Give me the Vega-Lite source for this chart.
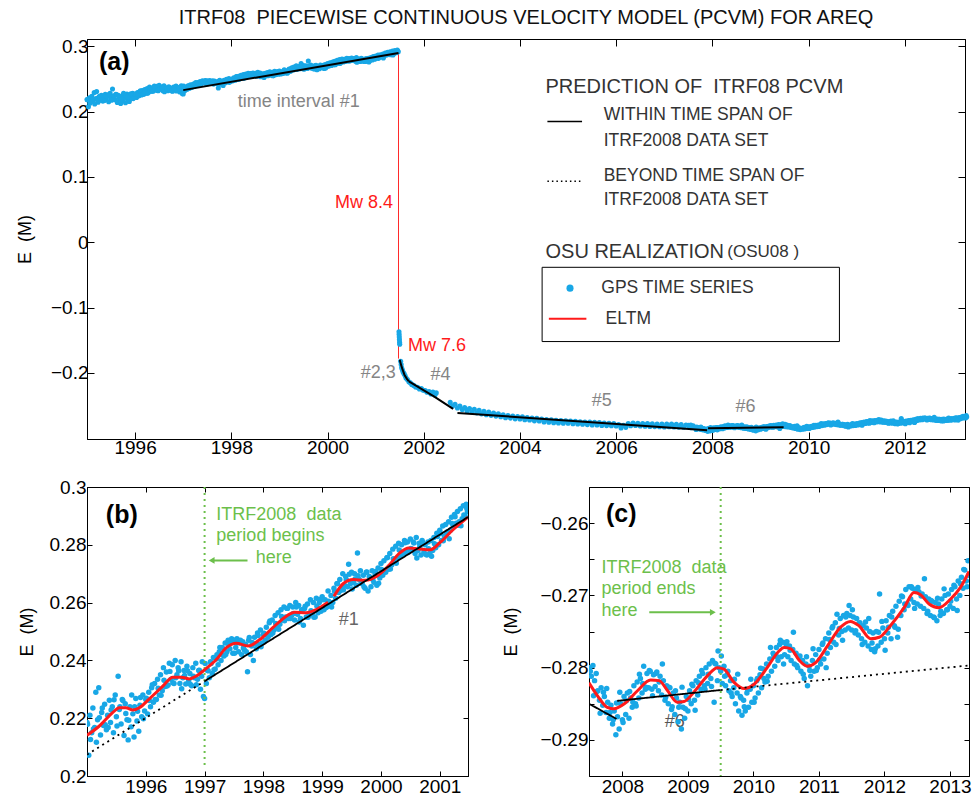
{
"$schema": "https://vega.github.io/schema/vega-lite/v6.json",
"padding": {"left": 15, "top": 7, "right": 2, "bottom": 2},
"background": "white",
"config": {
  "font": "Liberation Sans",
  "view": {"stroke": "black", "strokeWidth": 1},
  "axis": {"grid": false, "domainColor": "black", "tickColor": "black", "labelColor": "black", "labelFontSize": 19, "titleFontSize": 18, "titleFontWeight": "normal", "titleColor": "black", "tickSize": -7, "labelPadding": 6, "domainWidth": 1, "tickWidth": 1, "labelFont": "Liberation Sans", "titleFont": "Liberation Sans"},
  "text": {"font": "Liberation Sans"}
},
"datasets": {
  "gps": [
{"t":1995.00,"e":0.2185},{"t":1995.03,"e":0.2072},{"t":1995.05,"e":0.2210},{"t":1995.08,"e":0.2150},{"t":1995.10,"e":0.2235},{"t":1995.13,"e":0.2168},{"t":1995.15,"e":0.2290},{"t":1995.18,"e":0.2195},{"t":1995.20,"e":0.2305},{"t":1995.23,"e":0.2142},{"t":1995.25,"e":0.2220},{"t":1995.28,"e":0.2175},{"t":1995.30,"e":0.2248},{"t":1995.33,"e":0.2160},{"t":1995.35,"e":0.2210},{"t":1995.38,"e":0.2262},{"t":1995.40,"e":0.2185},{"t":1995.43,"e":0.2240},{"t":1995.45,"e":0.2150},{"t":1995.48,"e":0.2280},{"t":1995.50,"e":0.2205},{"t":1995.53,"e":0.2345},{"t":1995.55,"e":0.2230},{"t":1995.58,"e":0.2180},{"t":1995.60,"e":0.2265},{"t":1995.63,"e":0.2140},{"t":1995.65,"e":0.2250},{"t":1995.68,"e":0.2195},{"t":1995.70,"e":0.2125},{"t":1995.73,"e":0.2240},{"t":1995.75,"e":0.2170},{"t":1995.78,"e":0.2215},{"t":1995.80,"e":0.2135},{"t":1995.83,"e":0.2268},{"t":1995.85,"e":0.2190},{"t":1995.88,"e":0.2155},{"t":1995.90,"e":0.2245},{"t":1995.93,"e":0.2205},{"t":1995.95,"e":0.2280},{"t":1995.98,"e":0.2225},
{"t":1996.00,"e":0.2265},{"t":1996.03,"e":0.2215},{"t":1996.05,"e":0.2290},{"t":1996.08,"e":0.2240},{"t":1996.10,"e":0.2305},{"t":1996.13,"e":0.2255},{"t":1996.15,"e":0.2320},{"t":1996.18,"e":0.2265},{"t":1996.20,"e":0.2335},{"t":1996.23,"e":0.2280},{"t":1996.25,"e":0.2350},{"t":1996.28,"e":0.2295},{"t":1996.30,"e":0.2375},{"t":1996.33,"e":0.2310},{"t":1996.35,"e":0.2360},{"t":1996.38,"e":0.2315},{"t":1996.40,"e":0.2390},{"t":1996.43,"e":0.2335},{"t":1996.45,"e":0.2385},{"t":1996.48,"e":0.2320},{"t":1996.50,"e":0.2400},{"t":1996.53,"e":0.2350},{"t":1996.55,"e":0.2375},{"t":1996.58,"e":0.2320},{"t":1996.60,"e":0.2395},{"t":1996.63,"e":0.2340},{"t":1996.65,"e":0.2365},{"t":1996.68,"e":0.2318},{"t":1996.70,"e":0.2380},{"t":1996.73,"e":0.2330},{"t":1996.75,"e":0.2355},{"t":1996.78,"e":0.2312},{"t":1996.80,"e":0.2375},{"t":1996.83,"e":0.2340},{"t":1996.85,"e":0.2390},{"t":1996.88,"e":0.2335},{"t":1996.90,"e":0.2365},{"t":1996.93,"e":0.2300},{"t":1996.95,"e":0.2345},{"t":1996.98,"e":0.2275},
{"t":1997.00,"e":0.2268},{"t":1997.03,"e":0.2320},{"t":1997.05,"e":0.2365},{"t":1997.08,"e":0.2340},{"t":1997.10,"e":0.2395},{"t":1997.13,"e":0.2355},{"t":1997.15,"e":0.2410},{"t":1997.18,"e":0.2370},{"t":1997.20,"e":0.2405},{"t":1997.23,"e":0.2385},{"t":1997.25,"e":0.2430},{"t":1997.28,"e":0.2400},{"t":1997.30,"e":0.2445},{"t":1997.33,"e":0.2415},{"t":1997.35,"e":0.2460},{"t":1997.38,"e":0.2430},{"t":1997.40,"e":0.2470},{"t":1997.43,"e":0.2440},{"t":1997.45,"e":0.2465},{"t":1997.48,"e":0.2425},{"t":1997.50,"e":0.2470},{"t":1997.53,"e":0.2445},{"t":1997.55,"e":0.2475},{"t":1997.58,"e":0.2430},{"t":1997.60,"e":0.2460},{"t":1997.63,"e":0.2420},{"t":1997.65,"e":0.2465},{"t":1997.68,"e":0.2435},{"t":1997.70,"e":0.2455},{"t":1997.73,"e":0.2361},{"t":1997.75,"e":0.2470},{"t":1997.78,"e":0.2420},{"t":1997.80,"e":0.2450},{"t":1997.83,"e":0.2400},{"t":1997.85,"e":0.2480},{"t":1997.88,"e":0.2440},{"t":1997.90,"e":0.2495},{"t":1997.93,"e":0.2455},{"t":1997.95,"e":0.2505},{"t":1997.98,"e":0.2460},
{"t":1998.00,"e":0.2490},{"t":1998.03,"e":0.2470},{"t":1998.05,"e":0.2515},{"t":1998.08,"e":0.2480},{"t":1998.10,"e":0.2530},{"t":1998.13,"e":0.2490},{"t":1998.15,"e":0.2540},{"t":1998.18,"e":0.2505},{"t":1998.20,"e":0.2555},{"t":1998.23,"e":0.2515},{"t":1998.25,"e":0.2565},{"t":1998.28,"e":0.2525},{"t":1998.30,"e":0.2575},{"t":1998.33,"e":0.2540},{"t":1998.35,"e":0.2585},{"t":1998.38,"e":0.2550},{"t":1998.40,"e":0.2580},{"t":1998.43,"e":0.2545},{"t":1998.45,"e":0.2590},{"t":1998.48,"e":0.2555},{"t":1998.50,"e":0.2585},{"t":1998.53,"e":0.2540},{"t":1998.55,"e":0.2600},{"t":1998.58,"e":0.2560},{"t":1998.60,"e":0.2590},{"t":1998.63,"e":0.2545},{"t":1998.65,"e":0.2575},{"t":1998.68,"e":0.2522},{"t":1998.70,"e":0.2580},{"t":1998.73,"e":0.2550},{"t":1998.75,"e":0.2595},{"t":1998.78,"e":0.2555},{"t":1998.80,"e":0.2610},{"t":1998.83,"e":0.2560},{"t":1998.85,"e":0.2600},{"t":1998.88,"e":0.2550},{"t":1998.90,"e":0.2615},{"t":1998.93,"e":0.2565},{"t":1998.95,"e":0.2600},{"t":1998.98,"e":0.2570},
{"t":1999.00,"e":0.2620},{"t":1999.03,"e":0.2575},{"t":1999.05,"e":0.2610},{"t":1999.08,"e":0.2585},{"t":1999.10,"e":0.2640},{"t":1999.13,"e":0.2595},{"t":1999.15,"e":0.2625},{"t":1999.18,"e":0.2600},{"t":1999.20,"e":0.2650},{"t":1999.23,"e":0.2615},{"t":1999.25,"e":0.2665},{"t":1999.28,"e":0.2635},{"t":1999.30,"e":0.2680},{"t":1999.33,"e":0.2650},{"t":1999.35,"e":0.2700},{"t":1999.38,"e":0.2660},{"t":1999.40,"e":0.2690},{"t":1999.43,"e":0.2655},{"t":1999.45,"e":0.2733},{"t":1999.48,"e":0.2665},{"t":1999.50,"e":0.2705},{"t":1999.53,"e":0.2670},{"t":1999.55,"e":0.2700},{"t":1999.58,"e":0.2660},{"t":1999.60,"e":0.2772},{"t":1999.63,"e":0.2680},{"t":1999.65,"e":0.2710},{"t":1999.68,"e":0.2665},{"t":1999.70,"e":0.2695},{"t":1999.73,"e":0.2650},{"t":1999.75,"e":0.2705},{"t":1999.78,"e":0.2640},{"t":1999.80,"e":0.2690},{"t":1999.83,"e":0.2655},{"t":1999.85,"e":0.2710},{"t":1999.88,"e":0.2670},{"t":1999.90,"e":0.2700},{"t":1999.93,"e":0.2660},{"t":1999.95,"e":0.2720},{"t":1999.98,"e":0.2685},
{"t":2000.00,"e":0.2735},{"t":2000.03,"e":0.2695},{"t":2000.05,"e":0.2745},{"t":2000.08,"e":0.2705},{"t":2000.10,"e":0.2755},{"t":2000.13,"e":0.2715},{"t":2000.15,"e":0.2770},{"t":2000.18,"e":0.2730},{"t":2000.20,"e":0.2785},{"t":2000.23,"e":0.2740},{"t":2000.25,"e":0.2795},{"t":2000.28,"e":0.2755},{"t":2000.30,"e":0.2805},{"t":2000.33,"e":0.2760},{"t":2000.35,"e":0.2800},{"t":2000.38,"e":0.2770},{"t":2000.40,"e":0.2815},{"t":2000.43,"e":0.2775},{"t":2000.45,"e":0.2810},{"t":2000.48,"e":0.2780},{"t":2000.50,"e":0.2820},{"t":2000.53,"e":0.2785},{"t":2000.55,"e":0.2810},{"t":2000.58,"e":0.2770},{"t":2000.60,"e":0.2825},{"t":2000.63,"e":0.2780},{"t":2000.65,"e":0.2805},{"t":2000.68,"e":0.2765},{"t":2000.70,"e":0.2815},{"t":2000.73,"e":0.2775},{"t":2000.75,"e":0.2800},{"t":2000.78,"e":0.2765},{"t":2000.80,"e":0.2810},{"t":2000.83,"e":0.2770},{"t":2000.85,"e":0.2815},{"t":2000.88,"e":0.2780},{"t":2000.90,"e":0.2825},{"t":2000.93,"e":0.2790},{"t":2000.95,"e":0.2840},{"t":2000.98,"e":0.2800},
{"t":2001.00,"e":0.2850},{"t":2001.03,"e":0.2815},{"t":2001.05,"e":0.2865},{"t":2001.08,"e":0.2830},{"t":2001.10,"e":0.2870},{"t":2001.13,"e":0.2845},{"t":2001.15,"e":0.2880},{"t":2001.18,"e":0.2850},{"t":2001.20,"e":0.2895},{"t":2001.23,"e":0.2865},{"t":2001.25,"e":0.2905},{"t":2001.28,"e":0.2875},{"t":2001.30,"e":0.2915},{"t":2001.33,"e":0.2880},{"t":2001.35,"e":0.2925},{"t":2001.38,"e":0.2890},{"t":2001.40,"e":0.2935},{"t":2001.43,"e":0.2900},{"t":2001.45,"e":0.2940},{"t":2001.47,"e":0.2915},
{"t":1995.01,"e":0.2179},{"t":1995.06,"e":0.2126},{"t":1995.11,"e":0.2163},{"t":1995.16,"e":0.2117},{"t":1995.21,"e":0.2202},{"t":1995.26,"e":0.2235},{"t":1995.31,"e":0.2177},{"t":1995.36,"e":0.2168},{"t":1995.41,"e":0.2228},{"t":1995.46,"e":0.2264},{"t":1995.51,"e":0.2173},{"t":1995.56,"e":0.2240},{"t":1995.61,"e":0.2261},{"t":1995.66,"e":0.2216},{"t":1995.71,"e":0.2193},{"t":1995.76,"e":0.2280},{"t":1995.81,"e":0.2240},{"t":1995.86,"e":0.2224},{"t":1995.91,"e":0.2272},{"t":1995.96,"e":0.2198},
{"t":1996.01,"e":0.2269},{"t":1996.06,"e":0.2261},{"t":1996.11,"e":0.2316},{"t":1996.16,"e":0.2265},{"t":1996.21,"e":0.2304},{"t":1996.26,"e":0.2279},{"t":1996.31,"e":0.2331},{"t":1996.36,"e":0.2311},{"t":1996.41,"e":0.2362},{"t":1996.46,"e":0.2323},{"t":1996.51,"e":0.2340},{"t":1996.56,"e":0.2364},{"t":1996.61,"e":0.2302},{"t":1996.66,"e":0.2348},{"t":1996.71,"e":0.2364},{"t":1996.76,"e":0.2317},{"t":1996.81,"e":0.2345},{"t":1996.86,"e":0.2316},{"t":1996.91,"e":0.2366},{"t":1996.96,"e":0.2395},
{"t":1997.01,"e":0.2389},{"t":1997.06,"e":0.2364},{"t":1997.11,"e":0.2389},{"t":1997.16,"e":0.2368},{"t":1997.21,"e":0.2420},{"t":1997.26,"e":0.2445},{"t":1997.31,"e":0.2419},{"t":1997.36,"e":0.2420},{"t":1997.41,"e":0.2456},{"t":1997.46,"e":0.2475},{"t":1997.51,"e":0.2425},{"t":1997.56,"e":0.2461},{"t":1997.61,"e":0.2470},{"t":1997.66,"e":0.2443},{"t":1997.71,"e":0.2430},{"t":1997.76,"e":0.2479},{"t":1997.81,"e":0.2462},{"t":1997.86,"e":0.2457},{"t":1997.91,"e":0.2486},{"t":1997.96,"e":0.2447},
{"t":1998.01,"e":0.2494},{"t":1998.06,"e":0.2489},{"t":1998.11,"e":0.2536},{"t":1998.16,"e":0.2495},{"t":1998.21,"e":0.2528},{"t":1998.26,"e":0.2508},{"t":1998.31,"e":0.2552},{"t":1998.36,"e":0.2537},{"t":1998.41,"e":0.2580},{"t":1998.46,"e":0.2545},{"t":1998.51,"e":0.2562},{"t":1998.56,"e":0.2585},{"t":1998.61,"e":0.2533},{"t":1998.66,"e":0.2573},{"t":1998.71,"e":0.2587},{"t":1998.76,"e":0.2549},{"t":1998.81,"e":0.2572},{"t":1998.86,"e":0.2549},{"t":1998.91,"e":0.2588},{"t":1998.96,"e":0.2611},
{"t":1999.01,"e":0.2610},{"t":1999.06,"e":0.2582},{"t":1999.11,"e":0.2605},{"t":1999.16,"e":0.2585},{"t":1999.21,"e":0.2639},{"t":1999.26,"e":0.2666},{"t":1999.31,"e":0.2642},{"t":1999.36,"e":0.2644},{"t":1999.41,"e":0.2679},{"t":1999.46,"e":0.2698},{"t":1999.51,"e":0.2647},{"t":1999.56,"e":0.2682},{"t":1999.61,"e":0.2693},{"t":1999.66,"e":0.2667},{"t":1999.71,"e":0.2655},{"t":1999.76,"e":0.2706},{"t":1999.81,"e":0.2688},{"t":1999.86,"e":0.2680},{"t":1999.91,"e":0.2708},{"t":1999.96,"e":0.2667},
{"t":2000.01,"e":0.2715},{"t":2000.06,"e":0.2710},{"t":2000.11,"e":0.2756},{"t":2000.16,"e":0.2716},{"t":2000.21,"e":0.2752},{"t":2000.26,"e":0.2736},{"t":2000.31,"e":0.2782},{"t":2000.36,"e":0.2767},{"t":2000.41,"e":0.2807},{"t":2000.46,"e":0.2773},{"t":2000.51,"e":0.2787},{"t":2000.56,"e":0.2806},{"t":2000.61,"e":0.2754},{"t":2000.66,"e":0.2793},{"t":2000.71,"e":0.2807},{"t":2000.76,"e":0.2767},{"t":2000.81,"e":0.2786},{"t":2000.86,"e":0.2760},{"t":2000.91,"e":0.2804},{"t":2000.96,"e":0.2829},
{"t":2001.01,"e":0.2839},{"t":2001.06,"e":0.2814},{"t":2001.11,"e":0.2841},{"t":2001.16,"e":0.2821},{"t":2001.21,"e":0.2874},{"t":2001.26,"e":0.2897},{"t":2001.31,"e":0.2868},{"t":2001.36,"e":0.2866},{"t":2001.41,"e":0.2903},{"t":2001.46,"e":0.2926},
{"t":2001.485,"e":-0.1370},{"t":2001.488,"e":-0.1410},{"t":2001.491,"e":-0.1450},{"t":2001.494,"e":-0.1490},{"t":2001.497,"e":-0.1530},{"t":2001.500,"e":-0.1560},
{"t":2001.52,"e":-0.1820},{"t":2001.53,"e":-0.1870},{"t":2001.54,"e":-0.1920},{"t":2001.555,"e":-0.1950},{"t":2001.57,"e":-0.1985},{"t":2001.59,"e":-0.2010},{"t":2001.61,"e":-0.2040},{"t":2001.63,"e":-0.2075},{"t":2001.66,"e":-0.2100},{"t":2001.69,"e":-0.2135},{"t":2001.72,"e":-0.2150},{"t":2001.75,"e":-0.2175},{"t":2001.79,"e":-0.2190},{"t":2001.83,"e":-0.2215},{"t":2001.87,"e":-0.2220},{"t":2001.91,"e":-0.2245},{"t":2001.95,"e":-0.2240},{"t":2001.99,"e":-0.2265},{"t":2002.03,"e":-0.2270},{"t":2002.07,"e":-0.2295},{"t":2002.11,"e":-0.2285},{"t":2002.15,"e":-0.2320},{"t":2002.19,"e":-0.2290},{"t":2002.23,"e":-0.2335},{"t":2002.26,"e":-0.2305},
{"t":2002.55,"e":-0.2450},{"t":2002.60,"e":-0.2505},{"t":2002.65,"e":-0.2478},{"t":2002.70,"e":-0.2535},{"t":2002.75,"e":-0.2505},{"t":2002.80,"e":-0.2560},{"t":2002.85,"e":-0.2530},{"t":2002.90,"e":-0.2582},{"t":2002.95,"e":-0.2545},{"t":2003.00,"e":-0.2598},{"t":2003.05,"e":-0.2555},{"t":2003.10,"e":-0.2610},{"t":2003.15,"e":-0.2572},{"t":2003.20,"e":-0.2625},{"t":2003.25,"e":-0.2585},{"t":2003.30,"e":-0.2640},{"t":2003.35,"e":-0.2598},{"t":2003.40,"e":-0.2648},{"t":2003.45,"e":-0.2612},{"t":2003.50,"e":-0.2660},{"t":2003.55,"e":-0.2625},{"t":2003.60,"e":-0.2668},{"t":2003.65,"e":-0.2638},{"t":2003.70,"e":-0.2685},{"t":2003.75,"e":-0.2650},{"t":2003.80,"e":-0.2690},{"t":2003.85,"e":-0.2660},{"t":2003.90,"e":-0.2702},{"t":2003.95,"e":-0.2665},
{"t":2004.00,"e":-0.2705},{"t":2004.05,"e":-0.2672},{"t":2004.10,"e":-0.2715},{"t":2004.15,"e":-0.2680},{"t":2004.20,"e":-0.2720},{"t":2004.25,"e":-0.2688},{"t":2004.30,"e":-0.2732},{"t":2004.35,"e":-0.2695},{"t":2004.40,"e":-0.2735},{"t":2004.45,"e":-0.2705},{"t":2004.50,"e":-0.2748},{"t":2004.55,"e":-0.2712},{"t":2004.60,"e":-0.2752},{"t":2004.65,"e":-0.2718},{"t":2004.70,"e":-0.2760},{"t":2004.75,"e":-0.2725},{"t":2004.80,"e":-0.2765},{"t":2004.85,"e":-0.2728},{"t":2004.90,"e":-0.2768},{"t":2004.95,"e":-0.2730},
{"t":2005.00,"e":-0.2770},{"t":2005.05,"e":-0.2735},{"t":2005.10,"e":-0.2775},{"t":2005.15,"e":-0.2740},{"t":2005.20,"e":-0.2780},{"t":2005.25,"e":-0.2745},{"t":2005.30,"e":-0.2785},{"t":2005.35,"e":-0.2750},{"t":2005.40,"e":-0.2790},{"t":2005.45,"e":-0.2752},{"t":2005.50,"e":-0.2795},{"t":2005.55,"e":-0.2755},{"t":2005.60,"e":-0.2795},{"t":2005.65,"e":-0.2760},{"t":2005.70,"e":-0.2802},{"t":2005.75,"e":-0.2765},{"t":2005.80,"e":-0.2805},{"t":2005.85,"e":-0.2768},{"t":2005.90,"e":-0.2808},{"t":2005.95,"e":-0.2772},
{"t":2006.00,"e":-0.2812},{"t":2006.05,"e":-0.2790},{"t":2006.10,"e":-0.2840},{"t":2006.15,"e":-0.2800},{"t":2006.20,"e":-0.2832},{"t":2006.25,"e":-0.2775},{"t":2006.30,"e":-0.2808},{"t":2006.35,"e":-0.2765},{"t":2006.40,"e":-0.2802},{"t":2006.45,"e":-0.2770},{"t":2006.50,"e":-0.2810},{"t":2006.55,"e":-0.2772},{"t":2006.60,"e":-0.2815},{"t":2006.65,"e":-0.2775},{"t":2006.70,"e":-0.2818},{"t":2006.75,"e":-0.2778},{"t":2006.80,"e":-0.2820},{"t":2006.85,"e":-0.2780},{"t":2006.90,"e":-0.2822},{"t":2006.95,"e":-0.2782},
{"t":2007.00,"e":-0.2825},{"t":2007.05,"e":-0.2782},{"t":2007.10,"e":-0.2822},{"t":2007.15,"e":-0.2780},{"t":2007.20,"e":-0.2825},{"t":2007.25,"e":-0.2785},{"t":2007.30,"e":-0.2828},{"t":2007.35,"e":-0.2790},{"t":2007.40,"e":-0.2830},{"t":2007.45,"e":-0.2795},
{"t":2007.500,"e":-0.2800},{"t":2007.525,"e":-0.2812},{"t":2007.550,"e":-0.2797},{"t":2007.575,"e":-0.2818},{"t":2007.600,"e":-0.2808},{"t":2007.625,"e":-0.2832},{"t":2007.650,"e":-0.2845},{"t":2007.675,"e":-0.2828},{"t":2007.700,"e":-0.2852},{"t":2007.725,"e":-0.2840},{"t":2007.750,"e":-0.2862},{"t":2007.775,"e":-0.2848},{"t":2007.800,"e":-0.2870},{"t":2007.825,"e":-0.2852},{"t":2007.850,"e":-0.2878},{"t":2007.875,"e":-0.2860},{"t":2007.900,"e":-0.2893},{"t":2007.925,"e":-0.2868},{"t":2007.950,"e":-0.2885},{"t":2007.975,"e":-0.2850},
{"t":2008.000,"e":-0.2872},{"t":2008.025,"e":-0.2840},{"t":2008.050,"e":-0.2865},{"t":2008.075,"e":-0.2835},{"t":2008.100,"e":-0.2870},{"t":2008.125,"e":-0.2842},{"t":2008.150,"e":-0.2855},{"t":2008.175,"e":-0.2825},{"t":2008.200,"e":-0.2850},{"t":2008.225,"e":-0.2820},{"t":2008.250,"e":-0.2842},{"t":2008.275,"e":-0.2815},{"t":2008.300,"e":-0.2835},{"t":2008.325,"e":-0.2798},{"t":2008.350,"e":-0.2830},{"t":2008.375,"e":-0.2808},{"t":2008.400,"e":-0.2828},{"t":2008.425,"e":-0.2805},{"t":2008.450,"e":-0.2830},{"t":2008.475,"e":-0.2810},{"t":2008.500,"e":-0.2826},{"t":2008.525,"e":-0.2806},{"t":2008.550,"e":-0.2832},{"t":2008.575,"e":-0.2812},{"t":2008.600,"e":-0.2838},{"t":2008.625,"e":-0.2818},{"t":2008.650,"e":-0.2845},{"t":2008.675,"e":-0.2825},{"t":2008.700,"e":-0.2850},{"t":2008.725,"e":-0.2828},{"t":2008.750,"e":-0.2858},{"t":2008.775,"e":-0.2835},{"t":2008.800,"e":-0.2865},{"t":2008.825,"e":-0.2842},{"t":2008.850,"e":-0.2875},{"t":2008.875,"e":-0.2848},{"t":2008.900,"e":-0.2885},{"t":2008.925,"e":-0.2855},{"t":2008.950,"e":-0.2870},{"t":2008.975,"e":-0.2840},
{"t":2009.000,"e":-0.2860},{"t":2009.025,"e":-0.2832},{"t":2009.050,"e":-0.2850},{"t":2009.075,"e":-0.2825},{"t":2009.100,"e":-0.2845},{"t":2009.125,"e":-0.2818},{"t":2009.150,"e":-0.2838},{"t":2009.175,"e":-0.2812},{"t":2009.200,"e":-0.2830},{"t":2009.225,"e":-0.2808},{"t":2009.250,"e":-0.2825},{"t":2009.275,"e":-0.2800},{"t":2009.300,"e":-0.2822},{"t":2009.325,"e":-0.2795},{"t":2009.350,"e":-0.2815},{"t":2009.375,"e":-0.2790},{"t":2009.400,"e":-0.2848},{"t":2009.425,"e":-0.2795},{"t":2009.450,"e":-0.2818},{"t":2009.475,"e":-0.2800},{"t":2009.500,"e":-0.2805},{"t":2009.525,"e":-0.2822},{"t":2009.550,"e":-0.2798},{"t":2009.575,"e":-0.2825},{"t":2009.600,"e":-0.2810},{"t":2009.625,"e":-0.2832},{"t":2009.650,"e":-0.2818},{"t":2009.675,"e":-0.2840},{"t":2009.700,"e":-0.2828},{"t":2009.725,"e":-0.2850},{"t":2009.750,"e":-0.2835},{"t":2009.775,"e":-0.2860},{"t":2009.800,"e":-0.2840},{"t":2009.825,"e":-0.2866},{"t":2009.850,"e":-0.2845},{"t":2009.875,"e":-0.2860},{"t":2009.900,"e":-0.2835},{"t":2009.925,"e":-0.2855},{"t":2009.950,"e":-0.2830},{"t":2009.975,"e":-0.2848},
{"t":2010.000,"e":-0.2825},{"t":2010.025,"e":-0.2842},{"t":2010.050,"e":-0.2818},{"t":2010.075,"e":-0.2835},{"t":2010.100,"e":-0.2810},{"t":2010.125,"e":-0.2828},{"t":2010.150,"e":-0.2802},{"t":2010.175,"e":-0.2820},{"t":2010.200,"e":-0.2795},{"t":2010.225,"e":-0.2812},{"t":2010.250,"e":-0.2788},{"t":2010.275,"e":-0.2805},{"t":2010.300,"e":-0.2780},{"t":2010.325,"e":-0.2798},{"t":2010.350,"e":-0.2772},{"t":2010.375,"e":-0.2790},{"t":2010.400,"e":-0.2768},{"t":2010.425,"e":-0.2785},{"t":2010.450,"e":-0.2765},{"t":2010.475,"e":-0.2782},{"t":2010.500,"e":-0.2768},{"t":2010.525,"e":-0.2785},{"t":2010.550,"e":-0.2770},{"t":2010.575,"e":-0.2790},{"t":2010.600,"e":-0.2775},{"t":2010.625,"e":-0.2795},{"t":2010.650,"e":-0.2780},{"t":2010.675,"e":-0.2800},{"t":2010.700,"e":-0.2785},{"t":2010.725,"e":-0.2805},{"t":2010.750,"e":-0.2790},{"t":2010.775,"e":-0.2815},{"t":2010.800,"e":-0.2795},{"t":2010.825,"e":-0.2825},{"t":2010.850,"e":-0.2798},{"t":2010.875,"e":-0.2812},{"t":2010.900,"e":-0.2790},{"t":2010.925,"e":-0.2805},{"t":2010.950,"e":-0.2782},{"t":2010.975,"e":-0.2800},
{"t":2011.000,"e":-0.2775},{"t":2011.025,"e":-0.2795},{"t":2011.050,"e":-0.2768},{"t":2011.075,"e":-0.2788},{"t":2011.100,"e":-0.2760},{"t":2011.125,"e":-0.2780},{"t":2011.150,"e":-0.2752},{"t":2011.175,"e":-0.2772},{"t":2011.200,"e":-0.2745},{"t":2011.225,"e":-0.2765},{"t":2011.250,"e":-0.2738},{"t":2011.275,"e":-0.2726},{"t":2011.300,"e":-0.2755},{"t":2011.325,"e":-0.2732},{"t":2011.350,"e":-0.2750},{"t":2011.375,"e":-0.2728},{"t":2011.400,"e":-0.2748},{"t":2011.425,"e":-0.2725},{"t":2011.450,"e":-0.2745},{"t":2011.475,"e":-0.2728},{"t":2011.500,"e":-0.2748},{"t":2011.525,"e":-0.2730},{"t":2011.550,"e":-0.2752},{"t":2011.575,"e":-0.2732},{"t":2011.600,"e":-0.2755},{"t":2011.625,"e":-0.2738},{"t":2011.650,"e":-0.2760},{"t":2011.675,"e":-0.2742},{"t":2011.700,"e":-0.2765},{"t":2011.725,"e":-0.2745},{"t":2011.750,"e":-0.2770},{"t":2011.775,"e":-0.2750},{"t":2011.800,"e":-0.2775},{"t":2011.825,"e":-0.2752},{"t":2011.850,"e":-0.2778},{"t":2011.875,"e":-0.2750},{"t":2011.900,"e":-0.2770},{"t":2011.925,"e":-0.2698},{"t":2011.950,"e":-0.2765},{"t":2011.975,"e":-0.2745},
{"t":2012.000,"e":-0.2760},{"t":2012.025,"e":-0.2735},{"t":2012.050,"e":-0.2752},{"t":2012.075,"e":-0.2728},{"t":2012.100,"e":-0.2760},{"t":2012.125,"e":-0.2722},{"t":2012.150,"e":-0.2742},{"t":2012.175,"e":-0.2715},{"t":2012.200,"e":-0.2758},{"t":2012.225,"e":-0.2708},{"t":2012.250,"e":-0.2728},{"t":2012.275,"e":-0.2702},{"t":2012.300,"e":-0.2720},{"t":2012.325,"e":-0.2692},{"t":2012.350,"e":-0.2712},{"t":2012.375,"e":-0.2688},{"t":2012.400,"e":-0.2705},{"t":2012.425,"e":-0.2690},{"t":2012.450,"e":-0.2710},{"t":2012.475,"e":-0.2692},{"t":2012.500,"e":-0.2712},{"t":2012.525,"e":-0.2695},{"t":2012.550,"e":-0.2715},{"t":2012.575,"e":-0.2698},{"t":2012.600,"e":-0.2718},{"t":2012.625,"e":-0.2702},{"t":2012.650,"e":-0.2725},{"t":2012.675,"e":-0.2705},{"t":2012.700,"e":-0.2728},{"t":2012.725,"e":-0.2708},{"t":2012.750,"e":-0.2730},{"t":2012.775,"e":-0.2710},{"t":2012.800,"e":-0.2735},{"t":2012.825,"e":-0.2712},{"t":2012.850,"e":-0.2728},{"t":2012.875,"e":-0.2705},{"t":2012.900,"e":-0.2725},{"t":2012.925,"e":-0.2700},{"t":2012.950,"e":-0.2720},{"t":2012.975,"e":-0.2698},
{"t":2013.000,"e":-0.2715},{"t":2013.025,"e":-0.2692},{"t":2013.050,"e":-0.2718},{"t":2013.075,"e":-0.2688},{"t":2013.100,"e":-0.2705},{"t":2013.125,"e":-0.2680},{"t":2013.150,"e":-0.2700},{"t":2013.175,"e":-0.2675},{"t":2013.200,"e":-0.2690},{"t":2013.225,"e":-0.2665},{"t":2013.250,"e":-0.2680},{"t":2013.275,"e":-0.2652},{"t":2013.285,"e":-0.2672},
{"t":2007.51,"e":-0.2805},{"t":2007.56,"e":-0.2839},{"t":2007.61,"e":-0.2833},{"t":2007.66,"e":-0.2863},{"t":2007.71,"e":-0.2834},{"t":2007.76,"e":-0.2829},{"t":2007.81,"e":-0.2862},{"t":2007.86,"e":-0.2872},{"t":2007.91,"e":-0.2849},{"t":2007.96,"e":-0.2834},
{"t":2008.01,"e":-0.2876},{"t":2008.06,"e":-0.2846},{"t":2008.11,"e":-0.2833},{"t":2008.16,"e":-0.2848},{"t":2008.21,"e":-0.2853},{"t":2008.26,"e":-0.2809},{"t":2008.31,"e":-0.2822},{"t":2008.36,"e":-0.2827},{"t":2008.41,"e":-0.2804},{"t":2008.46,"e":-0.2839},{"t":2008.51,"e":-0.2808},{"t":2008.56,"e":-0.2820},{"t":2008.61,"e":-0.2795},{"t":2008.66,"e":-0.2841},{"t":2008.71,"e":-0.2827},{"t":2008.76,"e":-0.2854},{"t":2008.81,"e":-0.2832},{"t":2008.86,"e":-0.2855},{"t":2008.91,"e":-0.2827},{"t":2008.96,"e":-0.2857},
{"t":2009.01,"e":-0.2844},{"t":2009.06,"e":-0.2823},{"t":2009.11,"e":-0.2859},{"t":2009.16,"e":-0.2821},{"t":2009.21,"e":-0.2804},{"t":2009.26,"e":-0.2830},{"t":2009.31,"e":-0.2809},{"t":2009.36,"e":-0.2826},{"t":2009.41,"e":-0.2794},{"t":2009.46,"e":-0.2777},{"t":2009.51,"e":-0.2784},{"t":2009.56,"e":-0.2812},{"t":2009.61,"e":-0.2805},{"t":2009.66,"e":-0.2835},{"t":2009.71,"e":-0.2816},{"t":2009.76,"e":-0.2809},{"t":2009.81,"e":-0.2842},{"t":2009.86,"e":-0.2854},{"t":2009.91,"e":-0.2830},{"t":2009.96,"e":-0.2816},
{"t":2010.01,"e":-0.2848},{"t":2010.06,"e":-0.2815},{"t":2010.11,"e":-0.2801},{"t":2010.16,"e":-0.2815},{"t":2010.21,"e":-0.2819},{"t":2010.26,"e":-0.2772},{"t":2010.31,"e":-0.2783},{"t":2010.36,"e":-0.2785},{"t":2010.41,"e":-0.2762},{"t":2010.46,"e":-0.2795},{"t":2010.51,"e":-0.2764},{"t":2010.56,"e":-0.2776},{"t":2010.61,"e":-0.2751},{"t":2010.66,"e":-0.2797},{"t":2010.71,"e":-0.2784},{"t":2010.76,"e":-0.2809},{"t":2010.81,"e":-0.2785},{"t":2010.86,"e":-0.2804},{"t":2010.91,"e":-0.2774},{"t":2010.96,"e":-0.2804},
{"t":2011.01,"e":-0.2789},{"t":2011.06,"e":-0.2766},{"t":2011.11,"e":-0.2800},{"t":2011.16,"e":-0.2761},{"t":2011.21,"e":-0.2743},{"t":2011.26,"e":-0.2768},{"t":2011.31,"e":-0.2746},{"t":2011.36,"e":-0.2762},{"t":2011.41,"e":-0.2730},{"t":2011.46,"e":-0.2714},{"t":2011.51,"e":-0.2720},{"t":2011.56,"e":-0.2749},{"t":2011.61,"e":-0.2739},{"t":2011.66,"e":-0.2768},{"t":2011.71,"e":-0.2737},{"t":2011.76,"e":-0.2732},{"t":2011.81,"e":-0.2766},{"t":2011.86,"e":-0.2774},{"t":2011.91,"e":-0.2751},{"t":2011.96,"e":-0.2736},
{"t":2012.01,"e":-0.2776},{"t":2012.06,"e":-0.2744},{"t":2012.11,"e":-0.2730},{"t":2012.16,"e":-0.2744},{"t":2012.21,"e":-0.2747},{"t":2012.26,"e":-0.2701},{"t":2012.31,"e":-0.2712},{"t":2012.36,"e":-0.2714},{"t":2012.41,"e":-0.2688},{"t":2012.46,"e":-0.2718},{"t":2012.51,"e":-0.2689},{"t":2012.56,"e":-0.2701},{"t":2012.61,"e":-0.2677},{"t":2012.66,"e":-0.2722},{"t":2012.71,"e":-0.2707},{"t":2012.76,"e":-0.2731},{"t":2012.81,"e":-0.2704},{"t":2012.86,"e":-0.2722},{"t":2012.91,"e":-0.2691},{"t":2012.96,"e":-0.2720},
{"t":2013.01,"e":-0.2708},{"t":2013.06,"e":-0.2686},{"t":2013.11,"e":-0.2721},{"t":2013.16,"e":-0.2684},{"t":2013.21,"e":-0.2664},{"t":2013.26,"e":-0.2688}
  ],
  "eltm": [
{"t":1995.00,"e":0.2141,"s":"b1"},{"t":1995.21,"e":0.2173,"s":"b1"},{"t":1995.44,"e":0.2220,"s":"b1"},{"t":1995.55,"e":0.2236,"s":"b1"},{"t":1995.66,"e":0.2236,"s":"b1"},{"t":1995.78,"e":0.2228,"s":"b1"},{"t":1995.89,"e":0.2236,"s":"b1"},{"t":1996.06,"e":0.2267,"s":"b1"},{"t":1996.29,"e":0.2311,"s":"b1"},{"t":1996.46,"e":0.2342,"s":"b1"},{"t":1996.60,"e":0.2342,"s":"b1"},{"t":1996.74,"e":0.2336,"s":"b1"},{"t":1996.86,"e":0.2346,"s":"b1"},{"t":1997.01,"e":0.2369,"s":"b1"},{"t":1997.20,"e":0.2403,"s":"b1"},{"t":1997.37,"e":0.2444,"s":"b1"},{"t":1997.54,"e":0.2459,"s":"b1"},{"t":1997.74,"e":0.2450,"s":"b1"},{"t":1997.94,"e":0.2472,"s":"b1"},{"t":1998.16,"e":0.2513,"s":"b1"},{"t":1998.39,"e":0.2553,"s":"b1"},{"t":1998.53,"e":0.2567,"s":"b1"},{"t":1998.73,"e":0.2565,"s":"b1"},{"t":1998.90,"e":0.2576,"s":"b1"},{"t":1999.10,"e":0.2601,"s":"b1"},
{"t":1999.20,"e":0.2622,"s":"b2"},{"t":1999.36,"e":0.2666,"s":"b2"},{"t":1999.53,"e":0.2680,"s":"b2"},{"t":1999.73,"e":0.2677,"s":"b2"},{"t":1999.93,"e":0.2691,"s":"b2"},{"t":2000.13,"e":0.2728,"s":"b2"},{"t":2000.32,"e":0.2772,"s":"b2"},{"t":2000.47,"e":0.2789,"s":"b2"},{"t":2000.64,"e":0.2786,"s":"b2"},{"t":2000.84,"e":0.2783,"s":"b2"},{"t":2001.01,"e":0.2809,"s":"b2"},{"t":2001.23,"e":0.2853,"s":"b2"},{"t":2001.48,"e":0.2896,"s":"b2"},
{"t":2007.49,"e":-0.2821,"s":"c"},{"t":2007.62,"e":-0.2839,"s":"c"},{"t":2007.77,"e":-0.2855,"s":"c"},{"t":2007.87,"e":-0.2857,"s":"c"},{"t":2008.03,"e":-0.2850,"s":"c"},{"t":2008.23,"e":-0.2832,"s":"c"},{"t":2008.43,"e":-0.2817,"s":"c"},{"t":2008.56,"e":-0.2818,"s":"c"},{"t":2008.69,"e":-0.2832,"s":"c"},{"t":2008.84,"e":-0.2848,"s":"c"},{"t":2008.94,"e":-0.2847,"s":"c"},{"t":2009.09,"e":-0.2834,"s":"c"},{"t":2009.30,"e":-0.2811,"s":"c"},{"t":2009.45,"e":-0.2800,"s":"c"},{"t":2009.55,"e":-0.2802,"s":"c"},{"t":2009.70,"e":-0.2820,"s":"c"},{"t":2009.86,"e":-0.2829,"s":"c"},{"t":2010.01,"e":-0.2823,"s":"c"},{"t":2010.21,"e":-0.2800,"s":"c"},{"t":2010.37,"e":-0.2779,"s":"c"},{"t":2010.47,"e":-0.2772,"s":"c"},{"t":2010.57,"e":-0.2774,"s":"c"},{"t":2010.70,"e":-0.2790,"s":"c"},{"t":2010.82,"e":-0.2798,"s":"c"},{"t":2010.95,"e":-0.2793,"s":"c"},{"t":2011.13,"e":-0.2770,"s":"c"},{"t":2011.33,"e":-0.2744,"s":"c"},{"t":2011.48,"e":-0.2736,"s":"c"},{"t":2011.61,"e":-0.2742,"s":"c"},{"t":2011.79,"e":-0.2760,"s":"c"},{"t":2011.92,"e":-0.2758,"s":"c"},{"t":2012.09,"e":-0.2742,"s":"c"},{"t":2012.30,"e":-0.2717,"s":"c"},{"t":2012.45,"e":-0.2696,"s":"c"},{"t":2012.55,"e":-0.2699,"s":"c"},{"t":2012.68,"e":-0.2712,"s":"c"},{"t":2012.83,"e":-0.2717,"s":"c"},{"t":2013.01,"e":-0.2705,"s":"c"},{"t":2013.16,"e":-0.2689,"s":"c"},{"t":2013.29,"e":-0.2667,"s":"c"}
  ],
  "pcA": [
{"t":1997.0,"e":0.2328,"s":"s1"},{"t":2001.475,"e":0.2896,"s":"s1"},
{"t":2001.50,"e":-0.1797,"s":"s23"},{"t":2001.53,"e":-0.1880,"s":"s23"},{"t":2001.56,"e":-0.1950,"s":"s23"},{"t":2001.60,"e":-0.2030,"s":"s23"},{"t":2001.65,"e":-0.2090,"s":"s23"},{"t":2001.69,"e":-0.2128,"s":"s23"},
{"t":2001.69,"e":-0.2128,"s":"s4"},{"t":2002.21,"e":-0.2357,"s":"s4"},{"t":2002.61,"e":-0.2550,"s":"s4"},
{"t":2002.70,"e":-0.2611,"s":"s5"},{"t":2007.89,"e":-0.2876,"s":"s5"},
{"t":2007.91,"e":-0.2846,"s":"s6"},{"t":2009.48,"e":-0.2830,"s":"s6"}
  ],
  "pcB": [
{"t":1995.0,"e":0.2074,"s":"d1","d":"dot"},{"t":1997.0,"e":0.2328,"s":"d1","d":"dot"},
{"t":1997.0,"e":0.2328,"s":"s1","d":"sol"},{"t":2001.48,"e":0.2896,"s":"s1","d":"sol"}
  ],
  "pcC": [
{"t":2007.49,"e":-0.2850,"s":"s5","d":"sol"},{"t":2007.91,"e":-0.2871,"s":"s5","d":"sol"},
{"t":2007.92,"e":-0.2846,"s":"s6","d":"sol"},{"t":2009.50,"e":-0.2831,"s":"s6","d":"sol"},
{"t":2009.50,"e":-0.2831,"s":"d6","d":"dot"},{"t":2013.29,"e":-0.2797,"s":"d6","d":"dot"}
  ]
},
"bounds": "flush",
"spacing": 48,
"vconcat": [
{
  "width": 878, "height": 400,
  "title": {"text": "ITRF08\u00a0 PIECEWISE CONTINUOUS VELOCITY MODEL (PCVM) FOR AREQ", "anchor": "middle", "frame": "group", "fontSize": 20, "fontWeight": "normal", "font": "Liberation Sans", "color": "#111111", "offset": 9},
  "encoding": {
    "x": {"field": "t", "type": "quantitative", "scale": {"domain": [1995.0, 2013.25], "nice": false, "zero": false}, "axis": null},
    "y": {"field": "e", "type": "quantitative", "scale": {"domain": [-0.301, 0.311], "nice": false, "zero": false}, "axis": null}
  },
  "resolve": {"axis": {"x": "independent", "y": "independent"}},
  "layer": [
    {"data": {"values": [{"t": 2001.475, "e": 0.292, "e2": -0.178}]}, "mark": {"type": "rule", "color": "#ff2a2a", "strokeWidth": 1}, "encoding": {"y2": {"field": "e2"}}},
    {"data": {"name": "gps"}, "mark": {"type": "circle", "size": 26, "color": "#18a7e6", "opacity": 1},
     "encoding": {
       "x": {"field": "t", "type": "quantitative", "scale": {"domain": [1995.0, 2013.25], "nice": false, "zero": false}, "axis": {"orient": "bottom", "values": [1996,1998,2000,2002,2004,2006,2008,2010,2012], "format": "d", "title": null}},
       "y": {"field": "e", "type": "quantitative", "scale": {"domain": [-0.301, 0.311], "nice": false, "zero": false}, "axis": {"orient": "left", "values": [-0.2,-0.1,0,0.1,0.2,0.3], "format": "~g", "title": "E\u00a0\u00a0(M)", "titlePadding": 16}}
     }},
    {"data": {"values": [{"t": 2000, "e": 0}]}, "mark": {"type": "point", "opacity": 0},
     "encoding": {
       "x": {"field": "t", "type": "quantitative", "scale": {"domain": [1995.0, 2013.25], "nice": false, "zero": false}, "axis": {"orient": "top", "values": [1996,1998,2000,2002,2004,2006,2008,2010,2012], "labels": false, "title": null}},
       "y": {"field": "e", "type": "quantitative", "scale": {"domain": [-0.301, 0.311], "nice": false, "zero": false}, "axis": {"orient": "right", "values": [-0.2,-0.1,0,0.1,0.2,0.3], "labels": false, "title": null}}
     }},
    {"data": {"name": "pcA"}, "mark": {"type": "line", "color": "black", "strokeWidth": 2}, "encoding": {"detail": {"field": "s"}}},
    {"data": {"values": [
       {"t": 1999.40, "e": 0.2139, "txt": "time interval #1", "a": "center"},
       {"t": 2001.42, "e": -0.2004, "txt": "#2,3", "a": "right"},
       {"t": 2002.35, "e": -0.2037, "txt": "#4", "a": "center"},
       {"t": 2005.70, "e": -0.2433, "txt": "#5", "a": "center"},
       {"t": 2008.69, "e": -0.2525, "txt": "#6", "a": "center"}
     ]},
     "mark": {"type": "text", "fontSize": 18, "color": "#858585", "baseline": "middle", "align": {"expr": "datum.a"}},
     "encoding": {"text": {"field": "txt"}}},
    {"data": {"values": [{"t": 2001.36, "e": 0.0603, "txt": "Mw 8.4"}]}, "mark": {"type": "text", "fontSize": 18, "color": "#ff1a1a", "align": "right", "baseline": "middle"}, "encoding": {"text": {"field": "txt"}}},
    {"data": {"values": [{"t": 2001.67, "e": -0.1594, "txt": "Mw 7.6"}]}, "mark": {"type": "text", "fontSize": 18, "color": "#ff1a1a", "align": "left", "baseline": "middle"}, "encoding": {"text": {"field": "txt"}}},
    {"data": {"values": [{"t": 1995.25, "e": 0.2765, "txt": "(a)"}]}, "mark": {"type": "text", "fontSize": 25, "fontWeight": "bold", "color": "black", "align": "left", "baseline": "middle"}, "encoding": {"text": {"field": "txt"}}},
    {"data": {"values": [
       {"t": 2004.53, "e": 0.2383, "txt": "PREDICTION OF\u00a0 ITRF08 PCVM", "fs": 20},
       {"t": 2004.53, "e": -0.0143, "txt": "OSU REALIZATION", "fs": 20},
       {"t": 2008.31, "e": -0.0143, "txt": "(OSU08 )", "fs": 17},
       {"t": 2005.74, "e": 0.1951, "txt": "WITHIN TIME SPAN OF", "fs": 17.5},
       {"t": 2005.74, "e": 0.1544, "txt": "ITRF2008 DATA SET", "fs": 17.5},
       {"t": 2005.74, "e": 0.1009, "txt": "BEYOND TIME SPAN OF", "fs": 17.5},
       {"t": 2005.74, "e": 0.0653, "txt": "ITRF2008 DATA SET", "fs": 17.5},
       {"t": 2005.69, "e": -0.0702, "txt": "GPS TIME SERIES", "fs": 17.5},
       {"t": 2005.78, "e": -0.1171, "txt": "ELTM", "fs": 17.5}
     ]},
     "mark": {"type": "text", "color": "#333333", "align": "left", "baseline": "middle", "fontSize": {"expr": "datum.fs"}},
     "encoding": {"text": {"field": "txt"}}},
    {"data": {"values": [{"t": 2004.57, "t2": 2005.29, "e": 0.1849}]}, "mark": {"type": "rule", "color": "black", "strokeWidth": 1.5}, "encoding": {"x2": {"field": "t2"}}},
    {"data": {"values": [{"t": 2004.57, "t2": 2005.29, "e": 0.0933}]}, "mark": {"type": "rule", "color": "black", "strokeWidth": 1.5, "strokeDash": [1.5, 3]}, "encoding": {"x2": {"field": "t2"}}},
    {"data": {"values": [{"t": 2004.46, "t2": 2010.64, "e": -0.0383, "e2": -0.1519}]}, "mark": {"type": "rect", "fill": "white", "fillOpacity": 0, "stroke": "black", "strokeWidth": 1}, "encoding": {"x2": {"field": "t2"}, "y2": {"field": "e2"}}},
    {"data": {"values": [{"t": 2005.04, "e": -0.0702}]}, "mark": {"type": "circle", "size": 50, "color": "#18a7e6", "opacity": 1}},
    {"data": {"values": [{"t": 2004.60, "t2": 2005.38, "e": -0.1171}]}, "mark": {"type": "rule", "color": "#ff1a1a", "strokeWidth": 2}, "encoding": {"x2": {"field": "t2"}}}
  ]
},
{
  "bounds": "flush",
  "spacing": 121,
  "hconcat": [
    {
      "width": 381, "height": 289,
      "encoding": {
        "x": {"field": "t", "type": "quantitative", "scale": {"domain": [1995.0, 2001.48], "nice": false, "zero": false}, "axis": null},
        "y": {"field": "e", "type": "quantitative", "scale": {"domain": [0.2, 0.3], "nice": false, "zero": false}, "axis": null}
      },
      "resolve": {"axis": {"x": "independent", "y": "independent"}},
      "layer": [
        {"data": {"name": "gps"}, "transform": [{"filter": "datum.t < 2001.48"}], "mark": {"type": "circle", "size": 30, "color": "#18a7e6", "opacity": 1, "clip": true},
         "encoding": {
           "x": {"field": "t", "type": "quantitative", "scale": {"domain": [1995.0, 2001.48], "nice": false, "zero": false}, "axis": {"orient": "bottom", "values": [1996,1997,1998,1999,2000,2001], "format": "d", "title": null, "tickSize": -5}},
           "y": {"field": "e", "type": "quantitative", "scale": {"domain": [0.2, 0.3], "nice": false, "zero": false}, "axis": {"orient": "left", "values": [0.2,0.22,0.24,0.26,0.28,0.3], "format": "~g", "title": "E\u00a0\u00a0(M)", "titlePadding": 13, "tickSize": -5}}
         }},
        {"data": {"values": [{"t": 2000, "e": 0.25}]}, "mark": {"type": "point", "opacity": 0},
         "encoding": {
           "x": {"field": "t", "type": "quantitative", "scale": {"domain": [1995.0, 2001.48], "nice": false, "zero": false}, "axis": {"orient": "top", "values": [1996,1997,1998,1999,2000,2001], "labels": false, "title": null, "tickSize": -5}},
           "y": {"field": "e", "type": "quantitative", "scale": {"domain": [0.2, 0.3], "nice": false, "zero": false}, "axis": {"orient": "right", "values": [0.2,0.22,0.24,0.26,0.28,0.3], "labels": false, "title": null, "tickSize": -5}}
         }},
        {"data": {"values": [{"t": 1997.0, "e": 0.3, "e2": 0.2035}]}, "mark": {"type": "rule", "color": "#6cbf4b", "strokeWidth": 2, "strokeDash": [2, 4]}, "encoding": {"y2": {"field": "e2"}}},
        {"data": {"name": "eltm"}, "transform": [{"filter": "datum.s != 'c'"}], "mark": {"type": "line", "color": "#ff1a1a", "strokeWidth": 3, "interpolate": "monotone", "clip": true}, "encoding": {"detail": {"field": "s"}}},
        {"data": {"name": "pcB"}, "mark": {"type": "line", "color": "black", "strokeWidth": 1.8, "clip": true},
         "encoding": {"detail": {"field": "s"}, "strokeDash": {"field": "d", "type": "nominal", "scale": {"domain": ["sol", "dot"], "range": [[1, 0], [2, 4]]}, "legend": null}}},
        {"data": {"values": [
           {"t": 1997.20, "e": 0.2904, "txt": "ITRF2008\u00a0 data"},
           {"t": 1997.20, "e": 0.2829, "txt": "period begins"},
           {"t": 1997.87, "e": 0.2756, "txt": "here"}
         ]},
         "mark": {"type": "text", "fontSize": 18, "color": "#6cbf4b", "align": "left", "baseline": "middle"}, "encoding": {"text": {"field": "txt"}}},
        {"data": {"values": [{"t": 1997.12, "t2": 1997.73, "e": 0.2746}]}, "mark": {"type": "rule", "color": "#6cbf4b", "strokeWidth": 2}, "encoding": {"x2": {"field": "t2"}}},
        {"data": {"values": [{"t": 1997.12, "e": 0.2746}]}, "mark": {"type": "point", "shape": "triangle-left", "size": 45, "filled": true, "color": "#6cbf4b", "opacity": 1}},
        {"data": {"values": [{"t": 1999.45, "e": 0.2539, "txt": "#1"}]}, "mark": {"type": "text", "fontSize": 18, "color": "#666666", "align": "center", "baseline": "middle"}, "encoding": {"text": {"field": "txt"}}},
        {"data": {"values": [{"t": 1995.32, "e": 0.2904, "txt": "(b)"}]}, "mark": {"type": "text", "fontSize": 25, "fontWeight": "bold", "color": "black", "align": "left", "baseline": "middle"}, "encoding": {"text": {"field": "txt"}}}
      ]
    },
    {
      "width": 380, "height": 289,
      "encoding": {
        "x": {"field": "t", "type": "quantitative", "scale": {"domain": [2007.49, 2013.29], "nice": false, "zero": false}, "axis": null},
        "y": {"field": "e", "type": "quantitative", "scale": {"domain": [-0.295, -0.255], "nice": false, "zero": false}, "axis": null}
      },
      "resolve": {"axis": {"x": "independent", "y": "independent"}},
      "layer": [
        {"data": {"values": [{"t": 2008.80, "e": -0.28756, "txt": "#6"}]}, "mark": {"type": "text", "fontSize": 18, "color": "#555555", "align": "center", "baseline": "middle"}, "encoding": {"text": {"field": "txt"}}},
        {"data": {"name": "gps"}, "transform": [{"filter": "datum.t >= 2007.49"}], "mark": {"type": "circle", "size": 30, "color": "#18a7e6", "opacity": 1, "clip": true},
         "encoding": {
           "x": {"field": "t", "type": "quantitative", "scale": {"domain": [2007.49, 2013.29], "nice": false, "zero": false}, "axis": {"orient": "bottom", "values": [2008,2009,2010,2011,2012,2013], "format": "d", "title": null, "tickSize": -5}},
           "y": {"field": "e", "type": "quantitative", "scale": {"domain": [-0.295, -0.255], "nice": false, "zero": false}, "axis": {"orient": "left", "values": [-0.29,-0.285,-0.28,-0.275,-0.27,-0.265,-0.26], "labelExpr": "abs(round(datum.value*1000)) % 10 == 0 ? format(datum.value, '.2f') : ''", "title": "E\u00a0\u00a0(M)", "titlePadding": 19, "tickSize": -5}}
         }},
        {"data": {"values": [{"t": 2010, "e": -0.27}]}, "mark": {"type": "point", "opacity": 0},
         "encoding": {
           "x": {"field": "t", "type": "quantitative", "scale": {"domain": [2007.49, 2013.29], "nice": false, "zero": false}, "axis": {"orient": "top", "values": [2008,2009,2010,2011,2012,2013], "labels": false, "title": null, "tickSize": -5}},
           "y": {"field": "e", "type": "quantitative", "scale": {"domain": [-0.295, -0.255], "nice": false, "zero": false}, "axis": {"orient": "right", "values": [-0.29,-0.285,-0.28,-0.275,-0.27,-0.265,-0.26], "labels": false, "title": null, "tickSize": -5}}
         }},
        {"data": {"values": [{"t": 2009.5, "e": -0.255, "e2": -0.295}]}, "mark": {"type": "rule", "color": "#6cbf4b", "strokeWidth": 2, "strokeDash": [2, 4]}, "encoding": {"y2": {"field": "e2"}}},
        {"data": {"name": "eltm"}, "transform": [{"filter": "datum.s == 'c'"}], "mark": {"type": "line", "color": "#ff1a1a", "strokeWidth": 3, "interpolate": "monotone", "clip": true}},
        {"data": {"name": "pcC"}, "mark": {"type": "line", "color": "black", "strokeWidth": 1.8, "clip": true},
         "encoding": {"detail": {"field": "s"}, "strokeDash": {"field": "d", "type": "nominal", "scale": {"domain": ["sol", "dot"], "range": [[1, 0], [2, 4]]}, "legend": null}}},
        {"data": {"values": [
           {"t": 2007.68, "e": -0.26627, "txt": "ITRF2008\u00a0 data"},
           {"t": 2007.68, "e": -0.26912, "txt": "period ends"},
           {"t": 2007.68, "e": -0.27212, "txt": "here"}
         ]},
         "mark": {"type": "text", "fontSize": 18, "color": "#6cbf4b", "align": "left", "baseline": "middle"}, "encoding": {"text": {"field": "txt"}}},
        {"data": {"values": [{"t": 2008.41, "t2": 2009.38, "e": -0.27235}]}, "mark": {"type": "rule", "color": "#6cbf4b", "strokeWidth": 2}, "encoding": {"x2": {"field": "t2"}}},
        {"data": {"values": [{"t": 2009.38, "e": -0.27235}]}, "mark": {"type": "point", "shape": "triangle-right", "size": 45, "filled": true, "color": "#6cbf4b", "opacity": 1}},
        {"data": {"values": [{"t": 2007.75, "e": -0.25876, "txt": "(c)"}]}, "mark": {"type": "text", "fontSize": 25, "fontWeight": "bold", "color": "black", "align": "left", "baseline": "middle"}, "encoding": {"text": {"field": "txt"}}}
      ]
    }
  ]
}
]
}
